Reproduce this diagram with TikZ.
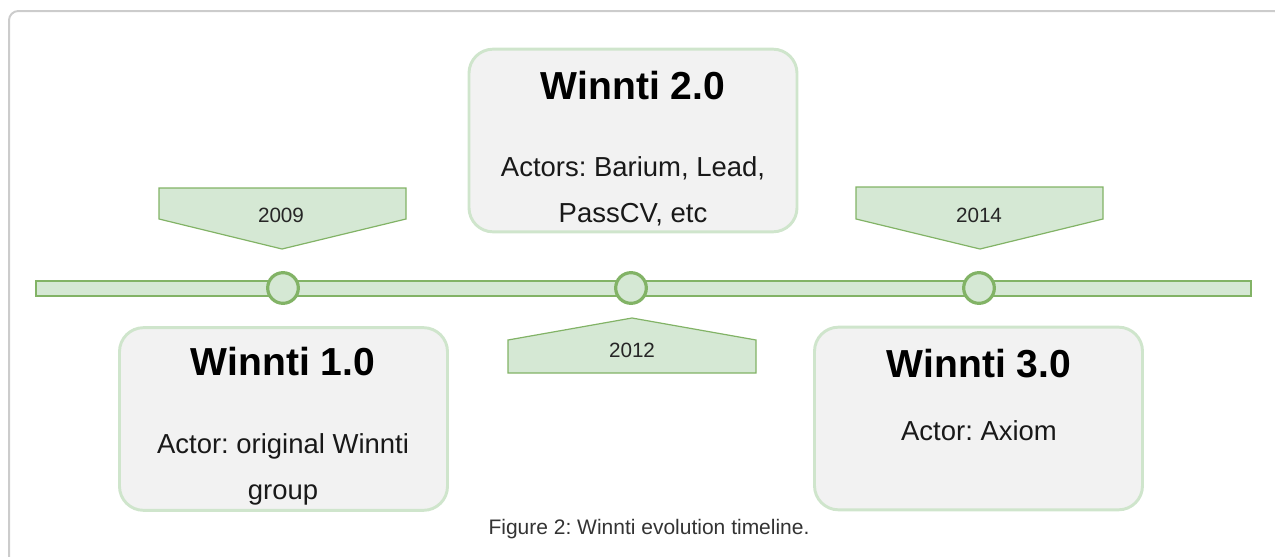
\documentclass[tikz,border=0pt]{standalone}
\usepackage{fontspec}
\setmainfont{Liberation Sans}
\frenchspacing
\definecolor{lineGreen}{HTML}{82B366}
\definecolor{fillGreen}{HTML}{D5E8D4}
\definecolor{edgeGreen}{HTML}{CFE5CC}
\definecolor{boxFill}{HTML}{F2F2F2}
\definecolor{frameGray}{HTML}{CCCCCC}
\definecolor{capGray}{HTML}{333333}

\begin{document}
\begin{tikzpicture}[x=0.75pt, y=-0.75pt,
  frame/.style={draw=frameGray, line width=1.5pt, rounded corners=7pt},
  bar/.style={draw=lineGreen, fill=fillGreen, line width=1.5pt,
    minimum width=911pt, minimum height=11.25pt, inner sep=0pt},
  dot/.style={circle, draw=lineGreen, fill=fillGreen, line width=2.4pt,
    minimum size=23pt, inner sep=0pt},
  flag/.style={draw=lineGreen, fill=fillGreen, line width=0.9pt},
  year/.style={font=\fontsize{15.5pt}{18pt}\selectfont, text=black!85,
    anchor=base, inner sep=0pt},
  version/.style={draw=edgeGreen, fill=boxFill, line width=2.2pt,
    rounded corners=18pt, minimum width=246pt, minimum height=137pt},
  title/.style={font=\fontsize{29.3pt}{34pt}\selectfont\bfseries,
    anchor=base, inner sep=0pt},
  actors/.style={font=\fontsize{20.6pt}{34.5pt}\selectfont, align=center,
    anchor=base, inner sep=0pt, text=black!90},
  caption/.style={font=\fontsize{15.75pt}{18pt}\selectfont, text=capGray,
    anchor=base, inner sep=0pt}
]
\useasboundingbox (0,0) rectangle (1275,557);
\clip (0,0) rectangle (1275,557);
\draw[frame] (9,11) rectangle (1283,640);

\node[bar] (line) at (643.5,288) {};

\draw[flag] (159,188) -- (406,188) -- (406,219) -- (282,249) -- (159,219) -- cycle;
\draw[flag] (508,373) -- (756,373) -- (756,340) -- (632,318) -- (508,340) -- cycle;
\draw[flag] (856,187) -- (1103,187) -- (1103,219) -- (980,249) -- (856,219) -- cycle;
\node[year] (y2009) at (281,222) {2009};
\node[year] (y2012) at (632,357) {2012};
\node[year] (y2014) at (979,222) {2014};

\node[dot] (d1) at (283,288) {};
\node[dot] (d2) at (631,288) {};
\node[dot] (d3) at (979,288) {};

\node[version] (w1) at (283.5,419) {};
\node[version] (w2) at (633,140.5) {};
\node[version] (w3) at (978.5,418.5) {};

\node[title] (t1) at (283,375) {Winnti 1.0};
\node[actors] (a1) at (283,499) {Actor: original Winnti\\group};
\node[title] (t2) at (633,99) {Winnti 2.0};
\node[actors] (a2) at (633,222) {Actors: Barium, Lead,\\PassCV, etc};
\node[title] (t3) at (979,377) {Winnti 3.0};
\node[actors] (a3) at (979,440) {Actor: Axiom};

\node[caption] (cap) at (649,534) {Figure 2: Winnti evolution timeline.};
\end{tikzpicture}
\end{document}
